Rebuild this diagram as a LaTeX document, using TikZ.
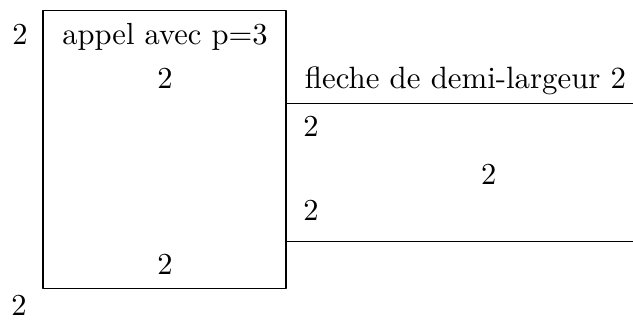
\documentclass[tikz,border=0pt]{standalone}
\usetikzlibrary{positioning}
\begin{document}
\begin{tikzpicture}[line join=round, chiffre/.style={anchor=base, inner sep=0pt}]
    \useasboundingbox (0,0) rectangle (7.29,3.69);

    % box of the call and the two lines of the arrow
    \coordinate (BG) at (0.495,0.369);
    \coordinate (HD) at (3.295,3.571);
    \coordinate (F1) at (3.295,2.500);
    \coordinate (F1e) at (7.29,2.500);
    \coordinate (F2) at (3.295,0.910);
    \coordinate (F2e) at (7.29,0.910);

    \draw (BG) rectangle (HD);
    \draw (F1) -- (F1e);
    \draw (F2) -- (F2e);

    % labels
    \node[chiffre] (gh) at (0.23,3.18) {2};
    \node[chiffre] (appel) at (1.90,3.18) {appel avec p=3};
    \node[chiffre] (ch) at (1.90,2.67) {2};
    \node[chiffre] (cb) at (1.90,0.53) {2};
    \node[chiffre] (gb) at (0.22,0.06) {2};
    \node[chiffre, anchor=base west] (fleche) at (3.505,2.67) {\fontsize{10.1}{12}\selectfont fleche de demi-largeur 2};
    \node[chiffre] (d1) at (3.583,2.12) {2};
    \node[chiffre] (dm) at (5.63,1.567) {2};
    \node[chiffre] (d3) at (3.583,1.152) {2};

\end{tikzpicture}
\end{document}
